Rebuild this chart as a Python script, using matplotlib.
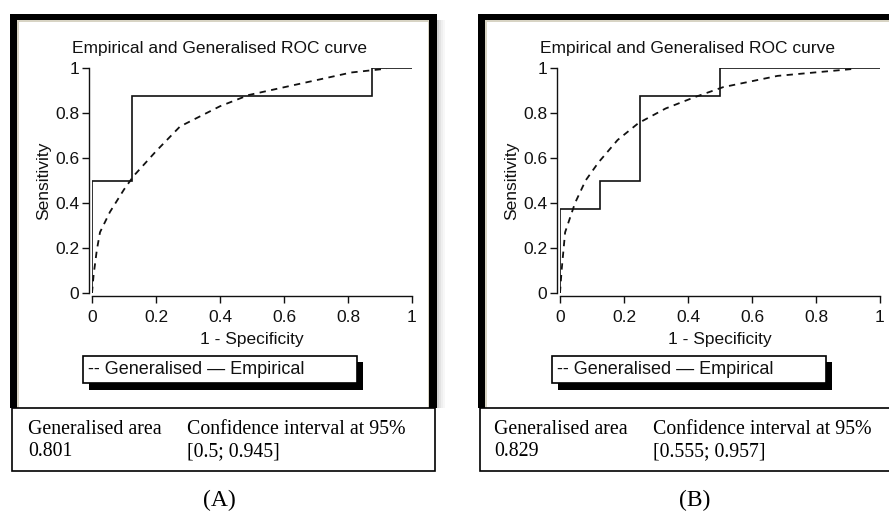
import matplotlib
matplotlib.use('Agg')
import matplotlib.pyplot as plt
from matplotlib.patches import Rectangle

W, H = 889, 514

tick_vals = [0, 0.2, 0.4, 0.6, 0.8, 1]
tick_labels = ['0', '0.2', '0.4', '0.6', '0.8', '1']

# panel A
emp_a_x = [0, 0, 0.125, 0.125, 0.875, 0.875, 1.0]
emp_a_y = [0, 0.5, 0.5, 0.875, 0.875, 1.0, 1.0]
gen_a_x = [0, 0.005, 0.015, 0.025, 0.056, 0.1, 0.13, 0.2, 0.275, 0.4, 0.49, 0.65, 0.81, 0.92]
gen_a_y = [0, 0.08, 0.19, 0.27, 0.36, 0.46, 0.52, 0.63, 0.74, 0.83, 0.88, 0.93, 0.98, 0.997]
area_a = '0.801'
ci_a = '[0.5; 0.945]'

# panel B
emp_b_x = [0, 0, 0.125, 0.125, 0.25, 0.25, 0.5, 0.5, 1.0]
emp_b_y = [0, 0.375, 0.375, 0.5, 0.5, 0.875, 0.875, 1.0, 1.0]
gen_b_x = [0, 0.005, 0.016, 0.047, 0.08, 0.12, 0.18, 0.245, 0.33, 0.42, 0.51, 0.68, 0.91]
gen_b_y = [0, 0.1, 0.27, 0.40, 0.50, 0.58, 0.68, 0.755, 0.82, 0.87, 0.915, 0.965, 0.995]
area_b = '0.829'
ci_b = '[0.555; 0.957]'

SANS = 'Liberation Sans'
SERIF = 'Liberation Serif'
INK = '#111111'

fig = plt.figure(figsize=(W / 100, H / 100), dpi=100)
fig.patch.set_facecolor('white')

bg = fig.add_axes([0, 0, 1, 1])
bg.set_xlim(0, W)
bg.set_ylim(H, 0)
bg.axis('off')


def draw_window(x0, x1, label_x, left_text_x, ci_text_x, area, ci, tag, tag_x, shadow):
    # gray soft shadow on the right
    if shadow:
        for i, a in enumerate([0.35, 0.22, 0.12, 0.06]):
            bg.add_patch(Rectangle((x1 + i * 2, 20), 2, 388, color='gray', alpha=a, lw=0))
    # thick black frame
    bg.add_patch(Rectangle((x0, 14), x1 - x0, 394, facecolor='black', lw=0))
    bg.add_patch(Rectangle((x0 + 7, 20), x1 - x0 - 15, 388, facecolor='#d8d4c4', lw=0))
    bg.add_patch(Rectangle((x0 + 9, 22), x1 - x0 - 18, 386, facecolor='white', lw=0))
    # legend box with shadow
    lx = label_x
    bg.add_patch(Rectangle((lx + 6, 362), 274, 28, facecolor='black', lw=0))
    bg.add_patch(Rectangle((lx, 356), 274, 27, facecolor='white', edgecolor='black', lw=1.2))
    bg.text(lx + 5, 370, '-- Generalised \u2014 Empirical', fontsize=13, family=SANS,
            va='center', ha='left', color=INK)
    # result box
    bg.add_patch(Rectangle((x0 + 2, 408), 423, 63, facecolor='white', edgecolor='black', lw=1.2))
    bg.text(left_text_x, 430, 'Generalised area', fontsize=14.3, family=SERIF, va='center')
    bg.text(left_text_x, 452, area, fontsize=14.3, family=SERIF, va='center')
    bg.text(ci_text_x, 430, 'Confidence interval at 95%', fontsize=14.3, family=SERIF, va='center')
    bg.text(ci_text_x, 452, ci, fontsize=14.3, family=SERIF, va='center')
    bg.text(tag_x, 500, tag, fontsize=17, family=SERIF, va='center', ha='center')


draw_window(10, 437, 83, 28, 187, area_a, ci_a, '(A)', 219, True)
draw_window(478, 905, 552, 494, 653, area_b, ci_b, '(B)', 695, False)


def draw_roc(px0, emp_x, emp_y, gen_x, gen_y):
    ax = fig.add_axes([px0 / W, (H - 293) / H, 320 / W, 225 / H])
    ax.patch.set_alpha(0)
    ax.plot(emp_x, emp_y, color=INK, lw=1.2, solid_joinstyle='miter')
    ax.plot(gen_x, gen_y, color=INK, lw=1.3, linestyle=(0, (3.5, 3)))
    ax.set_xlim(0, 1)
    ax.set_ylim(0, 1)
    for s in ['top', 'right']:
        ax.spines[s].set_visible(False)
    for s in ['left', 'bottom']:
        ax.spines[s].set_position(('outward', 2))
        ax.spines[s].set_linewidth(1.0)
        ax.spines[s].set_color(INK)
    ax.set_xticks(tick_vals)
    ax.set_xticklabels(tick_labels)
    ax.set_yticks(tick_vals)
    ax.set_yticklabels(tick_labels)
    ax.tick_params(direction='out', length=5, width=1, labelsize=12.5, colors=INK)
    ax.tick_params(axis='x', pad=5)
    ax.tick_params(axis='y', pad=2)
    for lab in ax.get_xticklabels() + ax.get_yticklabels():
        lab.set_family(SANS)
    ax.set_xlabel('1 - Specificity', fontsize=12.5, family=SANS, labelpad=5, color=INK)
    ax.set_ylabel('Sensitivity', fontsize=12.5, family=SANS, labelpad=3, color=INK)
    # the title sits left of the axes centre in the original window
    bg.text(px0 + 128, 49, 'Empirical and Generalised ROC curve', fontsize=12.5,
            family=SANS, ha='center', va='center', color=INK)
    return ax


draw_roc(92, emp_a_x, emp_a_y, gen_a_x, gen_a_y)
draw_roc(560, emp_b_x, emp_b_y, gen_b_x, gen_b_y)

fig.savefig('out.png', dpi=100)
